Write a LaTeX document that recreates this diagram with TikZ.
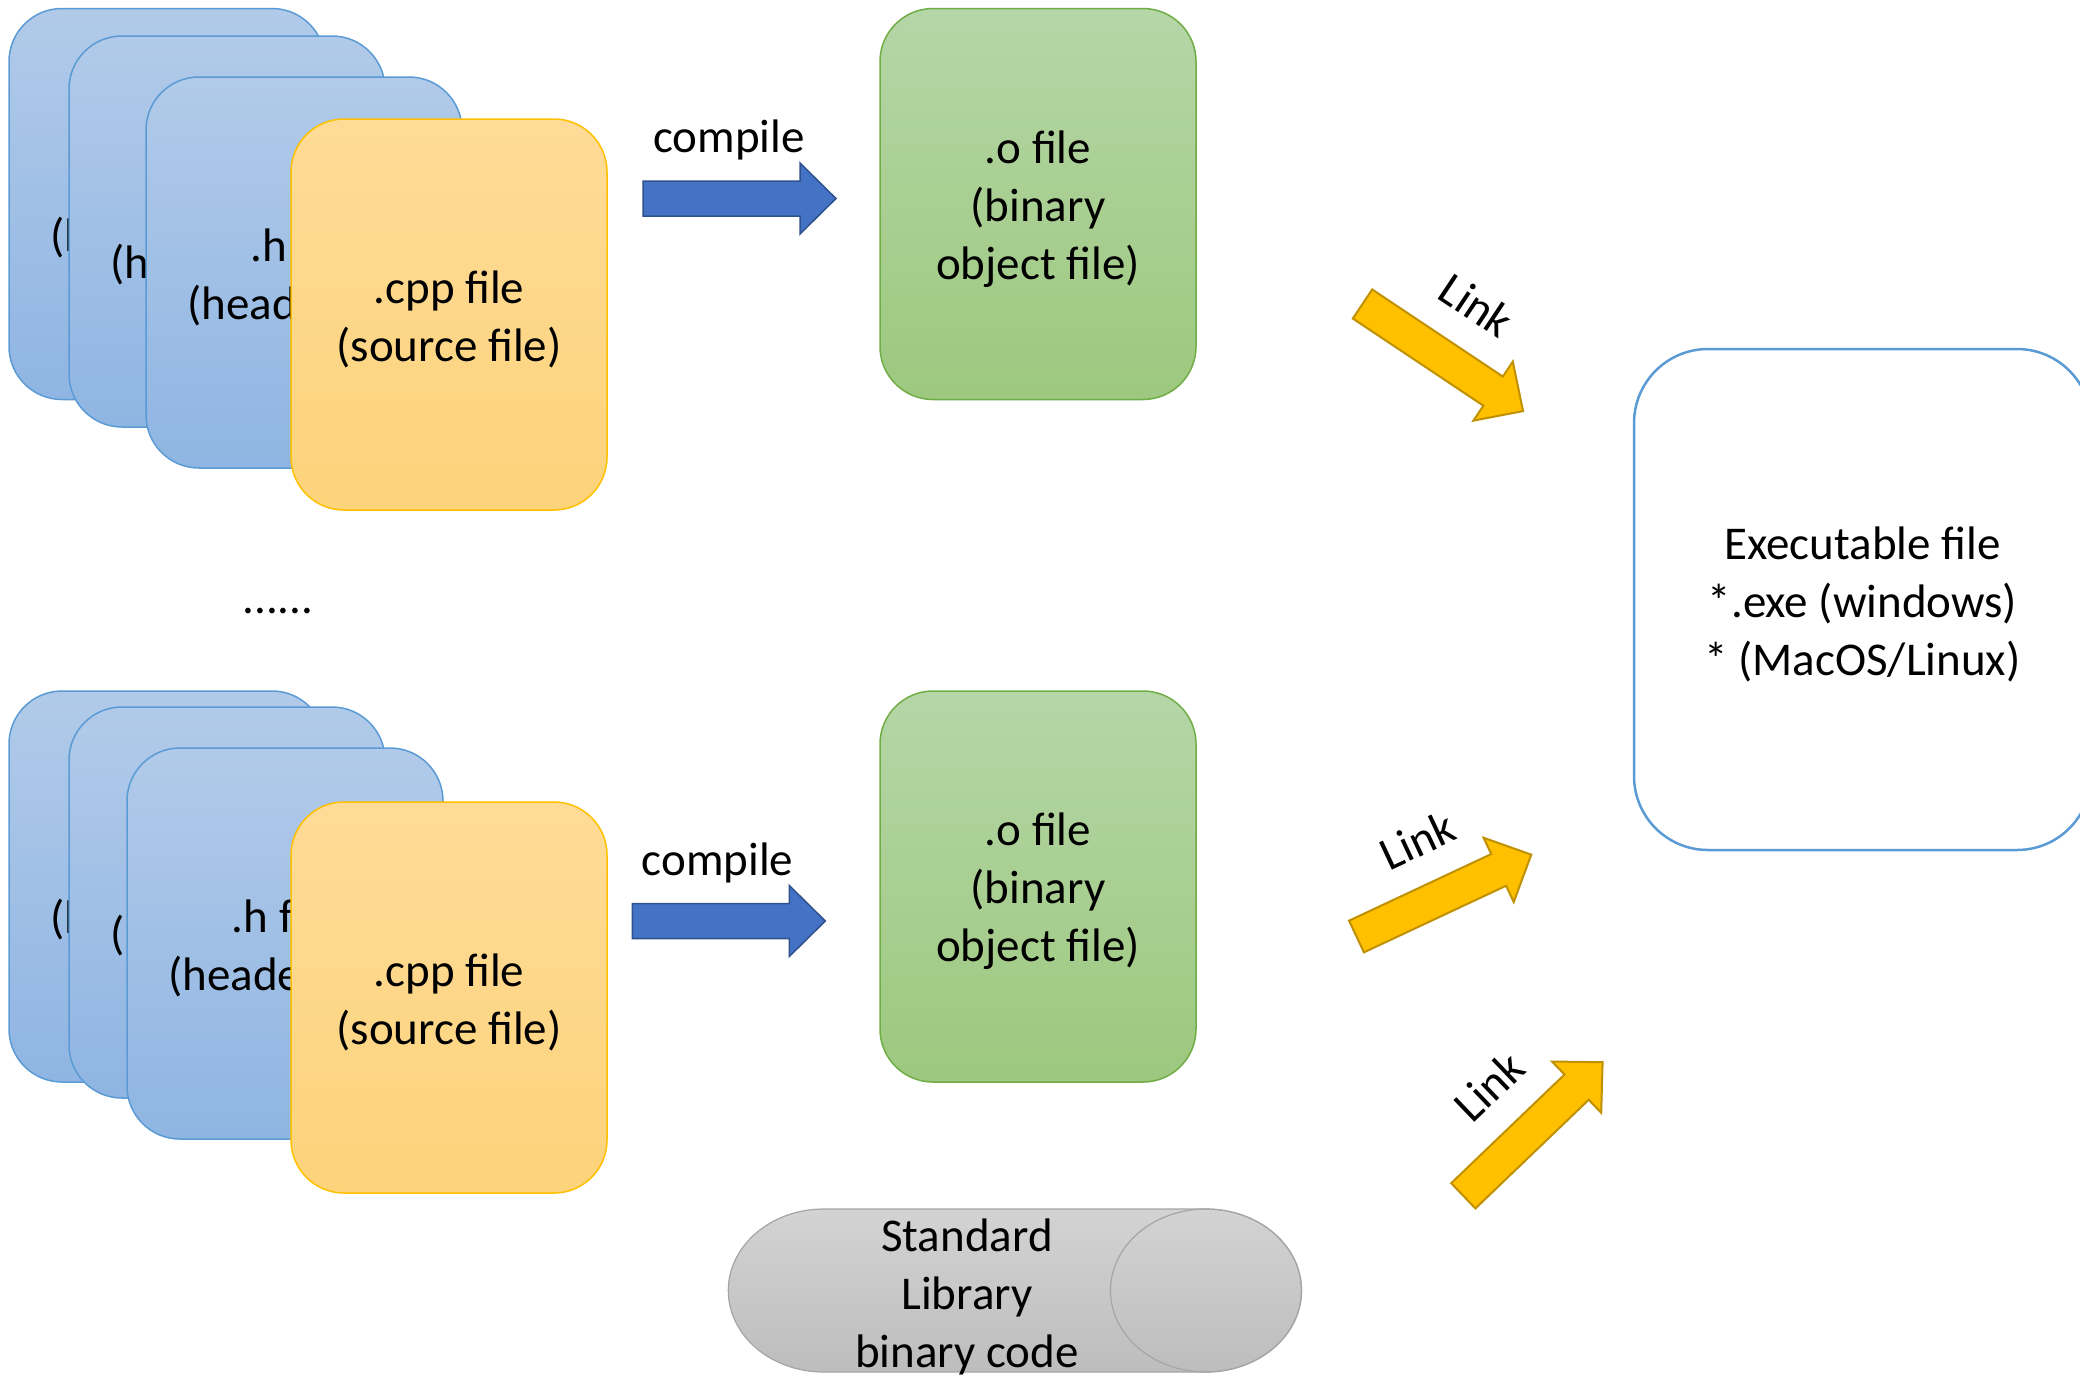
\documentclass[tikz,border=0pt]{standalone}
\usepackage{fontspec}
\setmainfont{Carlito}

% palette
\definecolor{hTop}{RGB}{177,202,233}
\definecolor{hBot}{RGB}{143,181,226}
\definecolor{hLine}{RGB}{91,155,213}
\definecolor{cTop}{RGB}{254,219,151}
\definecolor{cBot}{RGB}{253,211,123}
\definecolor{cLine}{RGB}{255,192,0}
\definecolor{oTop}{RGB}{181,214,167}
\definecolor{oBot}{RGB}{157,200,126}
\definecolor{oLine}{RGB}{112,173,71}
\definecolor{cmpFill}{RGB}{68,114,196}
\definecolor{cmpLine}{RGB}{47,82,143}
\definecolor{lnkFill}{RGB}{255,192,0}
\definecolor{lnkLine}{RGB}{191,144,0}
\definecolor{gTop}{RGB}{211,211,211}
\definecolor{gBot}{RGB}{189,189,189}
\definecolor{gLine}{RGB}{165,165,165}

\tikzset{
  lbl/.style={font=\fontsize{47}{58}\selectfont, align=center, inner sep=0pt, text=black},
  % centred multi-line caption, set slightly below the shape's centre
  ctext/.style={label={[lbl, yshift=-5pt]center:#1}},
  card/.style={rectangle, rounded corners=53pt, minimum width=316pt,
    minimum height=391pt, line width=1.5pt, inner sep=0pt},
  hcard/.style={card, draw=hLine, top color=hTop, bottom color=hBot},
  ccard/.style={card, draw=cLine, top color=cTop, bottom color=cBot},
  ocard/.style={card, draw=oLine, top color=oTop, bottom color=oBot},
  exebox/.style={rectangle, rounded corners=74pt, minimum width=457pt,
    minimum height=501pt, draw=hLine, fill=white, line width=2.5pt, inner sep=0pt},
  cmparrow/.style={fill=cmpFill, draw=cmpLine, line width=1.5pt, line join=miter},
  lnkarrow/.style={fill=lnkFill, draw=lnkLine, line width=2pt, line join=miter},
  % block arrow: tail centre at the origin, pointing along +x
  blockarrow/.pic={
    \path[pic actions] (0,-17.5) -- (157,-17.5) -- (157,-35.5) -- (193,0)
      -- (157,35.5) -- (157,17.5) -- (0,17.5) -- cycle;
  }
}

\begin{document}
\begin{tikzpicture}[x=1pt, y=-1pt]
\useasboundingbox (0,0) rectangle (2080,1374);

% upper stack of sources
\node[hcard, ctext=.h file\\(header file)] (hA1) at (167,204) {};
\node[hcard, ctext=.h file\\(header file)] (hA2) at (227,231.5) {};
\node[hcard, ctext=.h file\\(header file)] (hA3) at (304,272.5) {};
\node[ccard, ctext=.cpp file\\(source file)] (cppA) at (449,314.5) {};

\node[lbl] (dots) at (278,611) {......};

% lower stack of sources
\node[hcard, ctext=.h file\\(header file)] (hB1) at (167,886.5) {};
\node[hcard, ctext=.h file\\(header file)] (hB2) at (227,902.5) {};
\node[hcard, ctext=.h file\\(header file)] (hB3) at (285,943.5) {};
\node[ccard, ctext=.cpp file\\(source file)] (cppB) at (449,997.5) {};

% object files
\node[ocard, ctext=.o file\\(binary\\object file)] (objA) at (1038,204) {};
\node[ocard, ctext=.o file\\(binary\\object file)] (objB) at (1038,886.5) {};

% compile steps
\pic[cmparrow] (compA) at (643,198.5) {blockarrow};
\node[lbl] (compAtxt) at (729,140) {compile};
\pic[cmparrow] (compB) at (632.3,921) {blockarrow};
\node[lbl] (compBtxt) at (717.5,863) {compile};

% executable
\node[exebox, ctext=Executable file\\{}*.exe (windows)\\{}* (MacOS/Linux)] (exe) at (1862.5,599.5) {};

% link steps
\pic[lnkarrow, rotate=-33.7] (linkA) at (1362.5,304) {blockarrow};
\node[lbl, rotate=-33.7] (linkAtxt) at (1476.7,305) {Link};
\pic[lnkarrow, rotate=25.1] (linkB) at (1356.5,936.5) {blockarrow};
\node[lbl, rotate=25.1] (linkBtxt) at (1417.3,840) {Link};
\pic[lnkarrow, rotate=43.8] (linkC) at (1463.3,1195.8) {blockarrow};
\node[lbl, rotate=43.8] (linkCtxt) at (1489,1086) {Link};

% standard library cylinder
\path[top color=gTop, bottom color=gBot, draw=gLine, line width=1.2pt]
  (1206,1209) -- (823.8,1209)
  arc[start angle=270, end angle=90, x radius=95.5, y radius=81.5]
  -- (1206,1372)
  arc[start angle=90, end angle=-90, x radius=95.5, y radius=81.5] -- cycle;
\draw[gLine, line width=1.2pt] (1206,1290.5) ellipse[x radius=95.5, y radius=81.5];
\node[lbl] (stdlib) at (967,1297) {Standard\\Library\\binary code};
\end{tikzpicture}
\end{document}
